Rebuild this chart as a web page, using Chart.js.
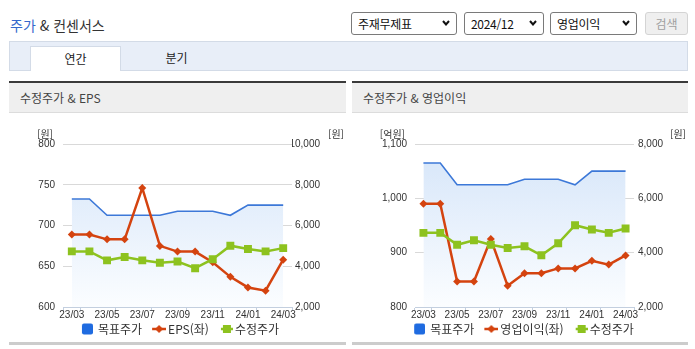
<!DOCTYPE html>
<html lang="ko">
<head>
<meta charset="utf-8">
<title>주가 &amp; 컨센서스</title>
<script src="https://cdn.jsdelivr.net/npm/chart.js@4.4.1/dist/chart.umd.min.js"></script>
<style>
  body{margin:0;width:695px;height:349px;position:relative;overflow:hidden;background:#fff;
       font-family:"Noto Sans CJK KR","Noto Sans",sans-serif;color:#333}
  .abs{position:absolute}
  .ttl{left:10px;top:15px;font-size:14px;line-height:20px;color:#333}
  .ttl span{color:#3568cc}
  .sel{top:12px;height:23px;box-sizing:border-box;border:1px solid #7a7a7a;border-radius:3px;background:#fff;
       font-size:12px;line-height:21px;padding-left:6px;color:#111;letter-spacing:-0.3px}
  .sel svg{position:absolute;right:6px;top:7px}
  .btn{left:645px;top:12px;width:43px;height:23px;box-sizing:border-box;border:1px solid #d4d4d4;border-radius:3px;
       background:#efefef;color:#a0a0a0;font-size:12px;line-height:21px;text-align:center}
  .tabs{left:9px;top:41px;width:679px;height:30px;box-sizing:border-box;background:#e8eef8;border:1px solid #d3dbe7}
  .tab{top:46px;height:25px;width:91px;box-sizing:border-box;font-size:12px;line-height:23px;text-align:center;color:#222}
  .tab.on{left:30px;background:#fff;border:1px solid #d3dbe7;border-bottom:none}
  .bar{top:81px;height:2px;background:#3a3a3a}
  .hd{top:83px;height:30px;box-sizing:border-box;background:#efefef;border-bottom:1px solid #dcdcdc;
      font-size:12px;line-height:30px;padding-left:11px;color:#444}
  .cw{top:113px;height:232px}
  .foot{top:342px;height:3px;background:#cccccc}
</style>
</head>
<body>
<div class="abs ttl"><span>주가</span> &amp; 컨센서스</div>

<div class="abs sel" style="left:351px;width:106px">주재무제표<svg width="8" height="6" viewBox="0 0 8 6"><path d="M1 1 L4 4.5 L7 1" fill="none" stroke="#111" stroke-width="2"/></svg></div>
<div class="abs sel" style="left:464px;width:80px">2024/12<svg width="8" height="6" viewBox="0 0 8 6"><path d="M1 1 L4 4.5 L7 1" fill="none" stroke="#111" stroke-width="2"/></svg></div>
<div class="abs sel" style="left:550px;width:87px">영업이익<svg width="8" height="6" viewBox="0 0 8 6"><path d="M1 1 L4 4.5 L7 1" fill="none" stroke="#111" stroke-width="2"/></svg></div>
<div class="abs btn">검색</div>

<div class="abs tabs"></div>
<div class="abs tab on">연간</div>
<div class="abs tab" style="left:131px">분기</div>

<div class="abs bar" style="left:9px;width:337px"></div>
<div class="abs hd" style="left:9px;width:337px">수정주가 &amp; EPS</div>
<div class="abs cw" style="left:9px;width:337px"><canvas id="epsChart"></canvas></div>
<div class="abs foot" style="left:9px;width:337px"></div>

<div class="abs bar" style="left:352px;width:336px"></div>
<div class="abs hd" style="left:352px;width:336px">수정주가 &amp; 영업이익</div>
<div class="abs cw" style="left:352px;width:336px"><canvas id="opChart"></canvas></div>
<div class="abs foot" style="left:352px;width:336px"></div>

<script>
// monthly points, 23/03 .. 24/03
const months = ['23/03','23/04','23/05','23/06','23/07','23/08','23/09','23/10','23/11','23/12','24/01','24/02','24/03'];

// 목표주가 / 수정주가 (원, right axis)
const targetPrice = [7300, 7300, 6500, 6500, 6500, 6500, 6700, 6700, 6700, 6500, 7000, 7000, 7000];
const adjPrice    = [4730, 4730, 4290, 4455, 4290, 4170, 4235, 3905, 4345, 5010, 4850, 4730, 4890];

// EPS (원) and 영업이익 (억원), left axis
const epsValues   = [689, 689, 683, 683, 746, 675, 668, 668, 655, 637, 624, 620, 658];
const opProfit    = [990, 990, 847, 847, 925, 839, 862, 862, 871, 871, 885, 878, 895];

const epsAxis   = [600, 800, 50];     // min, max, step
const opAxis    = [800, 1100, 100];
const priceAxisEps = [2000, 10000, 2000];
const priceAxisOp  = [2000, 8000, 2000];

const BLUE = '#3c78d8', RED = '#d4430f', GREEN = '#8dc21f';
const AXIS = '#c3cfdf';
const tickFont = {size: 10, family: '"Liberation Sans Narrow", "Liberation Sans", Arial, sans-serif'};

// legend marker images; box width W, the visible part sits at the right end of it
const W = 18;
function legendMark(kind, color) {
  const vis = {box: [8, 19], diamond: [8, 22], square: [10, 22]}[kind];
  const half = vis[1] - W / 2;
  const c = document.createElement('canvas');
  c.width = half * 2;
  c.height = 12;
  const off = W / 2 - half;
  const x0 = vis[0] - off, x1 = vis[1] - off;
  const g = c.getContext('2d');
  g.fillStyle = color;
  g.strokeStyle = color;
  if (kind === 'box') {
    g.beginPath(); g.roundRect(x0, 0.5, x1 - x0, 11, 2); g.fill();
    return c;
  }
  g.lineWidth = 2.5;
  g.beginPath(); g.moveTo(x0, 6); g.lineTo(x1, 6); g.stroke();
  const cx = (x0 + x1) / 2;
  if (kind === 'diamond') {
    g.beginPath(); g.moveTo(cx, 2); g.lineTo(cx + 4, 6); g.lineTo(cx, 10); g.lineTo(cx - 4, 6); g.closePath(); g.fill();
  } else {
    g.fillRect(cx - 4, 2, 8, 8);
  }
  return c;
}

const marks = [legendMark('box', '#1f6be0'), legendMark('diamond', RED), legendMark('square', GREEN)];

const unitPlugin = {
  id: 'units',
  afterDraw(chart, args, opts) {
    const c = chart.ctx;
    c.save();
    c.font = '10px "Liberation Sans Narrow", "Noto Sans CJK KR", sans-serif';
    c.fillStyle = '#333';
    c.textAlign = 'right';
    c.textBaseline = 'middle';
    c.fillText(opts.left, chart.chartArea.left - 10, 21);
    c.fillText(opts.right, chart.width - 2, 21);
    c.restore();
  }
};

function areaFill(ctx) {
  const a = ctx.chart.chartArea;
  if (!a) return 'rgba(220,233,250,0.8)';
  const g = ctx.chart.ctx.createLinearGradient(0, a.top, 0, a.bottom);
  g.addColorStop(0, '#d5e5f9');
  g.addColorStop(1, '#fbfdff');
  return g;
}

function makeChart(id, leftLabel, leftData, leftRange, rightRange, padLeft, leftWidth, padRight, rightWidth, unitLeft) {
  const ctx = document.getElementById(id).getContext('2d');
  return new Chart(ctx, {
    type: 'line',
    data: {
      labels: months,
      datasets: [
        {
          label: '목표주가',
          data: targetPrice,
          yAxisID: 'y1',
          borderColor: BLUE,
          borderWidth: 1.6,
          backgroundColor: areaFill,
          fill: 'start',
          pointRadius: 0,
          tension: 0,
          order: 3
        },
        {
          label: leftLabel,
          data: leftData,
          yAxisID: 'y',
          borderColor: RED,
          borderWidth: 2.5,
          pointStyle: 'rectRot',
          pointRadius: 4,
          pointBorderWidth: 0,
          pointBackgroundColor: RED,
          fill: false,
          order: 2
        },
        {
          label: '수정주가',
          data: adjPrice,
          yAxisID: 'y1',
          borderColor: GREEN,
          borderWidth: 2.5,
          pointStyle: 'rect',
          pointRadius: 5.6,
          pointBorderWidth: 0,
          pointBackgroundColor: GREEN,
          fill: false,
          order: 1
        }
      ]
    },
    options: {
      responsive: true,
      maintainAspectRatio: false,
      animation: false,
      layout: { padding: { top: 31, right: padRight, bottom: 0, left: padLeft } },
      plugins: {
        tooltip: { enabled: false },
        units: { left: unitLeft, right: '[원]' },
        legend: {
          position: 'bottom',
          labels: {
            usePointStyle: true,
            pointStyleWidth: W,
            padding: 2,
            color: '#333',
            font: { size: 12, family: '"Noto Sans CJK KR", sans-serif' },
            generateLabels: (chart) => chart.data.datasets.map((ds, i) => ({
              text: ds.label,
              pointStyle: marks[i],
              fillStyle: 'rgba(0,0,0,0)',
              strokeStyle: 'rgba(0,0,0,0)',
              lineWidth: 0,
              hidden: false,
              fontColor: '#333',
              datasetIndex: i
            }))
          }
        }
      },
      scales: {
        x: {
          offset: true,
          grid: {
            offset: true,
            drawOnChartArea: false,
            tickLength: 4,
            color: (c) => (c.index === undefined || c.index === 0 || c.index % 2 === 1) ? AXIS : 'rgba(0,0,0,0)'
          },
          border: { color: AXIS },
          ticks: {
            autoSkip: false,
            maxRotation: 0,
            minRotation: 0,
            padding: -2,
            color: '#333',
            font: tickFont,
            callback: (v, i) => i % 2 === 0 ? months[i] : ''
          },
          afterFit: (s) => { s.height = 14; }
        },
        y: {
          position: 'left',
          min: leftRange[0],
          max: leftRange[1],
          ticks: { stepSize: leftRange[2], padding: 8, color: '#333', font: tickFont,
                   callback: (v) => v.toLocaleString('en-US') },
          grid: { color: '#d9d9d9', drawTicks: false },
          border: { display: false },
          afterFit: (s) => { s.width = leftWidth; }
        },
        y1: {
          position: 'right',
          min: rightRange[0],
          max: rightRange[1],
          ticks: { stepSize: rightRange[2], crossAlign: 'far', padding: 3, color: '#333', font: tickFont,
                   callback: (v) => v.toLocaleString('en-US') },
          grid: { display: false, drawTicks: false },
          border: { display: false },
          afterFit: (s) => { s.width = rightWidth; }
        }
      }
    },
    plugins: [unitPlugin]
  });
}

makeChart('epsChart', 'EPS(좌)', epsValues, epsAxis, priceAxisEps, 24, 30, 26, 28, '[원]');
makeChart('opChart', '영업이익(좌)', opProfit, opAxis, priceAxisOp, 25, 38, 25, 29, '[억원]');
</script>
</body>
</html>
